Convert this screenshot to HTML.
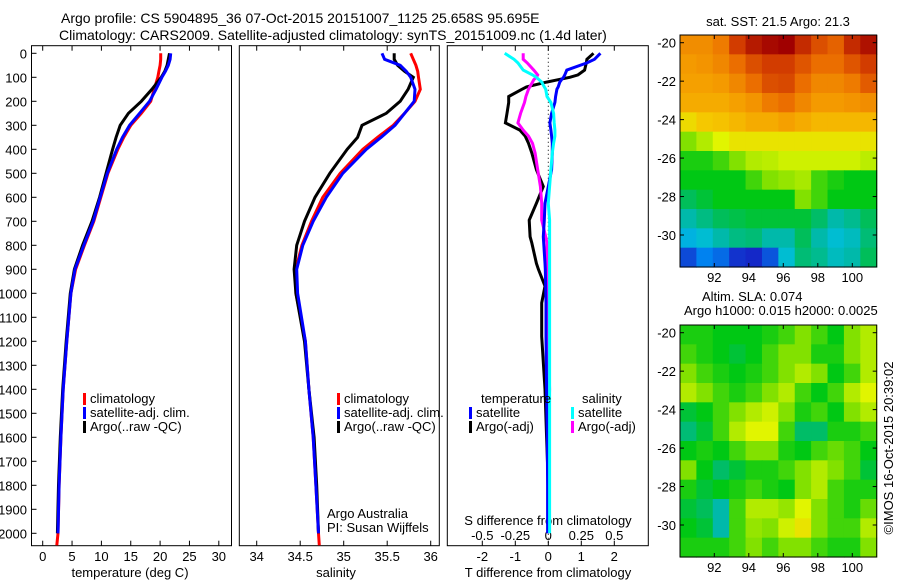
<!DOCTYPE html>
<html><head><meta charset="utf-8"><style>
body{margin:0;background:#fff}
svg{display:block;font-family:"Liberation Sans",sans-serif}
text{font-size:13px;fill:#000}
</style></head><body>
<svg id="c" width="900" height="580" viewBox="0 0 900 580" xmlns="http://www.w3.org/2000/svg">
<text x="61" y="23" style="font-size:14px">Argo profile: CS 5904895_36 07-Oct-2015 20151007_1125 25.658S 95.695E</text>
<text x="59" y="40" style="font-size:14px">Climatology: CARS2009. Satellite-adjusted climatology: synTS_20151009.nc (1.4d later)</text>
<text x="778" y="26" text-anchor="middle">sat. SST: 21.5 Argo: 21.3</text>
<text x="702" y="301">Altim. SLA: 0.074</text>
<text x="684" y="315">Argo h1000: 0.015 h2000: 0.0025</text>
<text transform="translate(893,448) rotate(-90)" text-anchor="middle">©IMOS 16-Oct-2015 20:39:02</text>
<g id="g"></g>
</svg>
<script>
// ---- data ----
const depths = [0,25,50,75,100,150,200,250,300,350,400,500,600,700,800,900,1000,1200,1400,1600,1800,2000,2050];
const climT = [20.1,20.1,20.0,19.8,19.6,19.0,18.4,16.8,15.0,13.8,12.8,11.1,9.9,8.7,7.1,5.6,4.8,4.1,3.5,3.1,2.8,2.6,2.4];
const satT  = [21.8,21.7,21.4,20.9,20.3,19.3,18.2,16.5,14.8,13.6,12.6,11.0,9.8,8.6,7.0,5.5,4.8,4.1,3.5,3.1,2.8,2.6,null];
const argoT = [21.6,21.4,21.2,20.8,20.2,18.6,16.8,14.6,13.2,12.5,11.9,10.8,9.7,8.4,6.8,5.4,4.7,4.0,3.4,3.0,2.7,2.5,null];
const climS = [35.77,35.80,35.83,35.85,35.86,35.88,35.82,35.70,35.57,35.39,35.22,34.96,34.76,34.63,34.52,34.45,34.45,34.56,34.60,34.65,34.68,34.71,34.72];
const satS  = [35.44,35.47,35.65,35.72,35.77,35.82,35.81,35.70,35.59,35.43,35.26,34.99,34.80,34.65,34.53,34.46,34.47,34.56,34.60,34.65,34.68,34.71,null];
const argoS = [35.58,35.58,35.62,35.70,35.80,35.74,35.65,35.49,35.21,35.16,35.04,34.84,34.67,34.55,34.46,34.43,34.45,34.55,34.60,34.66,34.69,34.71,null];
const diffDepths = [0,25,40,70,90,100,110,120,140,150,180,205,250,290,320,345,375,415,485,555,625,695,764,790,875,900,970,1040,1180,1400,1600,1800,2000];
const dTsat  = [1.58,1.4,1.17,0.56,0.5,0.46,0.4,0.35,0.3,0.26,0.22,0.2,0.1,0.05,0.08,0.1,0.12,0.12,0.1,0.0,-0.1,-0.12,-0.15,-0.14,-0.1,-0.09,-0.08,-0.07,-0.07,-0.05,-0.03,-0.02,-0.02];
const dTargo = [1.37,1.17,1.15,1.1,0.9,0.65,0.3,-0.05,-0.66,-0.8,-1.2,-1.2,-1.25,-1.3,-0.86,-0.7,-0.6,-0.5,-0.36,-0.15,-0.36,-0.58,-0.55,-0.5,-0.36,-0.3,-0.1,-0.2,-0.2,-0.1,-0.05,0.0,null];
const dSargo = [-0.19,-0.19,-0.16,-0.11,-0.08,-0.09,-0.11,-0.12,-0.14,-0.15,-0.17,-0.18,-0.21,-0.23,-0.19,-0.15,-0.12,-0.10,-0.08,-0.06,-0.05,-0.05,-0.02,-0.01,-0.01,-0.01,-0.01,0.0,0.0,0.01,0.0,0.0,0.0];
const dSsat  = [-0.33,-0.26,-0.23,-0.19,-0.12,-0.09,-0.07,-0.05,-0.03,-0.02,-0.01,0.02,0.04,0.045,0.05,0.05,0.04,0.03,0.02,0.01,0.0,0.01,0.01,0.01,0.01,0.01,0.01,0.01,0.01,0.01,0.01,0.01,0.01];
const depthTicks = [0,100,200,300,400,500,600,700,800,900,1000,1100,1200,1300,1400,1500,1600,1700,1800,1900,2000];
const tempTicks = [0,5,10,15,20,25,30];
const salTicks = [34,34.5,35,35.5,36];
const dTTicks = [-2,-1,0,1,2];
const dSTicks = [-0.5,-0.25,0,0.25,0.5];
const sstGrid = [
[0.75,0.75,0.78,0.88,0.92,0.94,0.95,0.9,0.85,0.82,0.9,0.93],
[0.73,0.74,0.76,0.8,0.85,0.88,0.88,0.84,0.8,0.8,0.84,0.88],
[0.72,0.72,0.73,0.76,0.8,0.85,0.86,0.8,0.76,0.76,0.78,0.83],
[0.7,0.7,0.7,0.72,0.74,0.78,0.8,0.76,0.73,0.73,0.74,0.75],
[0.63,0.65,0.66,0.68,0.7,0.7,0.72,0.7,0.68,0.68,0.68,0.68],
[0.5,0.55,0.6,0.62,0.62,0.62,0.62,0.62,0.62,0.62,0.62,0.62],
[0.42,0.42,0.45,0.5,0.55,0.56,0.58,0.58,0.58,0.58,0.58,0.56],
[0.4,0.4,0.4,0.4,0.45,0.5,0.52,0.54,0.45,0.42,0.4,0.4],
[0.36,0.38,0.4,0.4,0.4,0.4,0.4,0.5,0.45,0.4,0.4,0.4],
[0.3,0.33,0.36,0.37,0.38,0.38,0.38,0.38,0.35,0.3,0.32,0.36],
[0.24,0.26,0.3,0.33,0.34,0.3,0.3,0.36,0.3,0.26,0.28,0.34],
[0.15,0.2,0.18,0.13,0.12,0.16,0.26,0.34,0.32,0.28,0.3,0.36]];
const slaGrid = [
[.42,.42,.4,.4,.4,.42,.45,.5,.45,.4,.5,.55],
[.45,.42,.4,.38,.4,.45,.5,.5,.42,.42,.5,.55],
[.5,.45,.42,.4,.42,.45,.5,.55,.5,.4,.45,.55],
[.55,.5,.45,.42,.45,.5,.55,.45,.4,.45,.55,.6],
[.38,.4,.45,.5,.55,.58,.5,.42,.45,.4,.5,.55],
[.34,.38,.45,.55,.6,.6,.45,.35,.35,.42,.42,.45],
[.4,.42,.4,.45,.5,.5,.42,.4,.45,.48,.45,.4],
[.5,.4,.35,.38,.42,.42,.45,.5,.55,.5,.45,.38],
[.42,.38,.4,.42,.45,.42,.4,.5,.55,.45,.42,.42],
[.38,.36,.3,.45,.55,.55,.52,.6,.5,.45,.42,.48],
[.4,.38,.3,.45,.52,.5,.58,.62,.5,.45,.45,.55],
[.42,.42,.42,.45,.5,.45,.5,.5,.45,.42,.42,.5]];
const lonTicks = [92,94,96,98,100];
const latTicks = [-20,-22,-24,-26,-28,-30];

// ---- helpers ----
const NS="http://www.w3.org/2000/svg", G=document.getElementById('g');
function mk(t,a,txt){const e=document.createElementNS(NS,t);for(const k in a)e.setAttribute(k,a[k]);if(txt!=null)e.textContent=txt;G.appendChild(e);return e;}
const yD = d => 53.3 + 0.24*d;
const PT=45.7;
const BOT=545.7;
const xT = t => 42.7 + 5.87*t;
const xS = s => 256.7 + 87*(s-34);
const xdT = t => 548.3 + 33*t;
const xdS = s => 548.3 + 132*s;
function box(x0,x1,y0,y1,name){const e=mk('rect',{x:x0,y:y0,width:x1-x0,height:y1-y0,fill:'none',stroke:'#000','stroke-width':1});

}
function line(ys,xs,fx,col,name){let p=[];for(let i=0;i<ys.length;i++){if(xs[i]==null)continue;p.push(fx(xs[i]).toFixed(1)+','+yD(ys[i]).toFixed(1));}
const e=mk('polyline',{points:p.join(' '),fill:'none',stroke:col,'stroke-width':3,'stroke-linejoin':'miter'});

}
function tickX(vals,fx,y0,y1,labY,fmt,name){vals.forEach(v=>{const x=fx(v);
mk('line',{x1:x,x2:x,y1:y1,y2:y1-5,stroke:'#000'});mk('line',{x1:x,x2:x,y1:y0,y2:y0+5,stroke:'#000'});
if(labY){const t=mk('text',{x:x,y:labY,'text-anchor':'middle'},fmt?fmt(v):String(v));

}});}

// panels
box(31.5,231.5,PT,BOT,'temperature-axes');
box(239.3,439.3,PT,BOT,'salinity-axes');
box(447.3,648.3,PT,BOT,'difference-axes');
depthTicks.forEach(d=>{const y=yD(d);
mk('line',{x1:31.5,x2:36.5,y1:y,y2:y,stroke:'#000'});
const t=mk('text',{x:27,y:y+5,'text-anchor':'end'},String(d));

});
tickX(tempTicks,xT,PT,BOT,561,null,'temperature-tick-label');
tickX(salTicks,xS,PT,BOT,561,null,'salinity-tick-label');
dTTicks.forEach(v=>{const x=xdT(v);mk('line',{x1:x,x2:x,y1:BOT,y2:BOT-5,stroke:'#000'});mk('line',{x1:x,x2:x,y1:PT,y2:PT+5,stroke:'#000'});
const t=mk('text',{x:x,y:561,'text-anchor':'middle'},String(v));

});
dSTicks.forEach(v=>{const t=mk('text',{x:xdS(v),y:540,'text-anchor':'middle'},String(v));

});
mk('line',{x1:548.3,x2:548.3,y1:PT,y2:BOT,stroke:'#000','stroke-dasharray':'1,3'});

// axis titles
[[130,577,'temperature (deg C)','x-axis-title-temperature'],[336,577,'salinity','x-axis-title-salinity'],[548,577,'T difference from climatology','x-axis-title-t-diff'],[548,525,'S difference from climatology','x-axis-title-s-diff']].forEach(a=>{
const t=mk('text',{x:a[0],y:a[1],'text-anchor':'middle'},a[2]);

});
[[327,518,'Argo Australia'],[327,532,'PI: Susan Wijffels']].forEach(a=>{const t=mk('text',{x:a[0],y:a[1]},a[2]);

});

// series
line(depths,climT,xT,'#ff0000','temperature-climatology-line');
line(depths,argoT,xT,'#000000','temperature-argo-line');
line(depths,satT,xT,'#0000ff','temperature-satellite-line');
line(depths,climS,xS,'#ff0000','salinity-climatology-line');
line(depths,argoS,xS,'#000000','salinity-argo-line');
line(depths,satS,xS,'#0000ff','salinity-satellite-line');
line(diffDepths,dTargo,xdT,'#000000','t-diff-argo-line');
line(diffDepths,dSargo,xdS,'#ff00ff','s-diff-argo-line');
line(diffDepths,dTsat,xdT,'#0000ff','t-diff-satellite-line');
line(diffDepths,dSsat,xdS,'#00ffff','s-diff-satellite-line');

// legends
function leg(x,y,col,label,name){const r=mk('rect',{x:x,y:y-10,width:3,height:12,fill:col});


const t=mk('text',{x:x+7,y:y},label);

}
[[83,'climatology','#f00'],[83,'satellite-adj. clim.','#00f'],[83,'Argo(..raw -QC)','#000']].forEach((a,i)=>leg(a[0],403+i*14,a[2],a[1],'legend-entry'));
[[337,'climatology','#f00'],[337,'satellite-adj. clim.','#00f'],[337,'Argo(..raw -QC)','#000']].forEach((a,i)=>leg(a[0],403+i*14,a[2],a[1],'legend-entry'));
{const t=mk('text',{x:481,y:403},'temperature');}
{const t=mk('text',{x:582,y:403},'salinity');}
leg(469,417,'#00f','satellite','legend-entry');leg(469,431,'#000','Argo(-adj)','legend-entry');
leg(571,417,'#0ff','satellite','legend-entry');leg(571,431,'#f0f','Argo(-adj)','legend-entry');

// maps
const cmapStops=[[0.0,[0,0,140]],[0.12,[20,40,200]],[0.2,[0,130,240]],[0.25,[0,190,220]],[0.3,[0,185,170]],[0.36,[0,190,90]],[0.4,[0,200,20]],[0.5,[130,225,0]],[0.6,[225,245,0]],[0.65,[245,200,0]],[0.72,[245,160,0]],[0.8,[235,110,0]],[0.88,[210,60,0]],[0.95,[160,0,0]],[1.0,[130,0,0]]];
function jet(v){for(let i=1;i<cmapStops.length;i++){const a=cmapStops[i-1],b=cmapStops[i];if(v<=b[0]){const f=(v-a[0])/(b[0]-a[0]);
return 'rgb('+a[1].map((c,k)=>Math.round(c+(b[1][k]-c)*f)).join(',')+')';}}return 'rgb(130,0,0)';}
const lonX = l => 714.3 + 17.25*(l-92);
function map(grid,top,name){const latY = la => top+7.7 + 19.23*(-20-la);
const x0=680,x1=876.7,y0=top,y1=top+232;
const nr=grid.length,nc=grid[0].length,cw=(x1-x0)/nc,ch=(y1-y0)/nr;
grid.forEach((row,i)=>row.forEach((v,j)=>{const r=mk('rect',{x:(x0+j*cw).toFixed(2),y:(y0+i*ch).toFixed(2),width:(cw+0.6).toFixed(2),height:(ch+0.6).toFixed(2),fill:jet(v)});

}));
box(x0,x1,y0,y1,name+'-axes');
lonTicks.forEach(l=>{const x=lonX(l);mk('line',{x1:x,x2:x,y1:y1,y2:y1-4,stroke:'#000'});mk('line',{x1:x,x2:x,y1:y0,y2:y0+4,stroke:'#000'});
const t=mk('text',{x:x,y:y1+15,'text-anchor':'middle'},String(l));

});
latTicks.forEach(la=>{const y=latY(la);mk('line',{x1:x0,x2:x0+4,y1:y,y2:y,stroke:'#000'});mk('line',{x1:x1,x2:x1-4,y1:y,y2:y,stroke:'#000'});
const t=mk('text',{x:x0-4,y:y+5,'text-anchor':'end'},String(la));

});}
map(sstGrid,35,'sst-map');
map(slaGrid,325,'sla-map');
</script>
</body></html>
